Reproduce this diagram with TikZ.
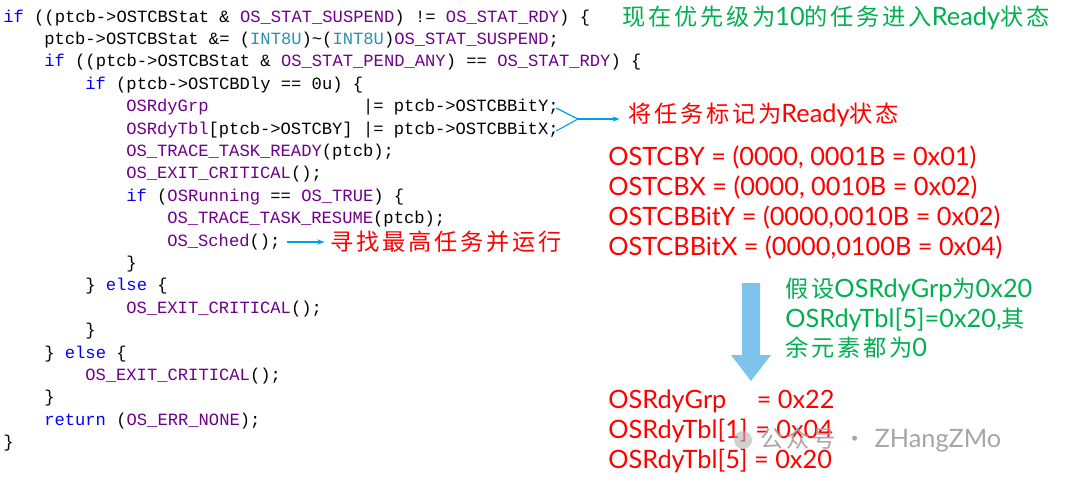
\documentclass[tikz,border=0pt]{standalone}
\usepackage{fontspec}
\usetikzlibrary{arrows.meta,positioning}
\newfontfamily\codefont{Liberation Mono}
\newfontfamily\notefont{Lato}
\newfontfamily\cjk[LetterSpace=12]{Noto Sans CJK SC}
\definecolor{kwblue}{RGB}{0,0,255}
\definecolor{macpurple}{RGB}{111,0,138}
\definecolor{typeteal}{RGB}{43,145,175}
\definecolor{notered}{RGB}{255,0,0}
\definecolor{notegreen}{RGB}{0,176,80}
\definecolor{arrowblue}{RGB}{0,160,230}
\definecolor{bigblue}{RGB}{125,195,236}
\newcommand\kw[1]{\textcolor{kwblue}{#1}}
\newcommand\mac[1]{\textcolor{macpurple}{#1}}
\newcommand\ty[1]{\textcolor{typeteal}{#1}}
\newcommand\lat[1]{{\notefont\fontsize{18}{20}\selectfont #1}}
\begin{document}
\begin{tikzpicture}[x=0.025cm,y=-0.025cm]
	\tikzset{CodeStyle/.style = {
			anchor=west, inner sep=0pt,
			font=\codefont\fontsize{12.2}{14}\selectfont
	}}
	\tikzset{NoteStyle/.style = {
			anchor=west, inner sep=0pt, text=notered,
			font=\notefont\fontsize{18}{20}\selectfont
	}}
	\tikzset{CjkStyle/.style = {
			anchor=west, inner sep=0pt,
			font=\cjk\fontsize{16.5}{18}\selectfont
	}}
	\useasboundingbox (0,0) rectangle (1080,481);
	% code lines
	\node[CodeStyle] (c1) at (3,18) {\kw{if} ((ptcb->OSTCBStat \& \mac{OS\_STAT\_SUSPEND}) != \mac{OS\_STAT\_RDY}) \{};
	\node[CodeStyle] (c2) at (44,40) {ptcb->OSTCBStat \&= (\ty{INT8U})\textasciitilde(\ty{INT8U})\mac{OS\_STAT\_SUSPEND};};
	\node[CodeStyle] (c3) at (44,62) {\kw{if} ((ptcb->OSTCBStat \& \mac{OS\_STAT\_PEND\_ANY}) == \mac{OS\_STAT\_RDY}) \{};
	\node[CodeStyle] (c4) at (85,85) {\kw{if} (ptcb->OSTCBDly == 0u) \{};
	\node[CodeStyle] (c5) at (126,107) {\mac{OSRdyGrp}\hphantom{[ptcb->OSTCBY]} |= ptcb->OSTCBBitY;};
	\node[CodeStyle] (c6) at (126,130) {\mac{OSRdyTbl}[ptcb->OSTCBY] |= ptcb->OSTCBBitX;};
	\node[CodeStyle] (c7) at (126,152) {\mac{OS\_TRACE\_TASK\_READY}(ptcb);};
	\node[CodeStyle] (c8) at (126,174) {\mac{OS\_EXIT\_CRITICAL}();};
	\node[CodeStyle] (c9) at (126,197) {\kw{if} (\mac{OSRunning} == \mac{OS\_TRUE}) \{};
	\node[CodeStyle] (c10) at (167,219) {\mac{OS\_TRACE\_TASK\_RESUME}(ptcb);};
	\node[CodeStyle] (c11) at (167,242) {\mac{OS\_Sched}();};
	\node[CodeStyle] (c12) at (126,264) {\}};
	\node[CodeStyle] (c13) at (85,286) {\} \kw{else} \{};
	\node[CodeStyle] (c14) at (126,309) {\mac{OS\_EXIT\_CRITICAL}();};
	\node[CodeStyle] (c15) at (85,331) {\}};
	\node[CodeStyle] (c16) at (44,354) {\} \kw{else} \{};
	\node[CodeStyle] (c17) at (85,376) {\mac{OS\_EXIT\_CRITICAL}();};
	\node[CodeStyle] (c18) at (44,398) {\}};
	\node[CodeStyle] (c19) at (44,421) {\kw{return} (\mac{OS\_ERR\_NONE});};
	\node[CodeStyle] (c20) at (3,443) {\}};
	% notes
	\node[CjkStyle, text=notegreen] (title) at (622,18) {现在优先级为\lat{10}的任务进入\lat{Ready}状态};
	\node[CjkStyle, text=notered] (mark) at (628,115) {将任务标记为\lat{Ready}状态};
	\node[CjkStyle, text=notered] (sched) at (330,242) {寻找最高任务并运行};
	\node[NoteStyle] (v1) at (608,158) {OSTCBY = (0000, 0001B = 0x01)};
	\node[NoteStyle] (v2) at (608,188) {OSTCBX = (0000, 0010B = 0x02)};
	\node[NoteStyle] (v3) at (608,218) {OSTCBBitY = (0000,0010B = 0x02)};
	\node[NoteStyle] (v4) at (608,248) {OSTCBBitX = (0000,0100B = 0x04)};
	\node[CjkStyle, text=notegreen, align=left, anchor=north west] (assume) at (785,278) {假设\lat{OSRdyGrp}为\lat{0x20}\\[3pt]\lat{OSRdyTbl[5]=0x20,}其\\[3pt]余元素都为\lat{0}};
	\node[NoteStyle] (r1) at (608,401) {OSRdyGrp\hspace{1.2em}= 0x22};
	\node[NoteStyle] (r2) at (608,431) {OSRdyTbl[1]\hspace{0.3em}= 0x04};
	\node[NoteStyle] (r3) at (608,461) {OSRdyTbl[5] = 0x20};
	\node[CjkStyle, text=black!35, anchor=west] (wm) at (760,440) {公众号 · \lat{ZHangZMo}};
	\fill[black!30, opacity=0.6] (743,440) circle (9);
	% connectors
	\coordinate (braceTop) at (556,108);
	\coordinate (braceBot) at (556,131);
	\coordinate (braceTip) at (578,119);
	\draw[arrowblue, thick] (braceTop) -- (braceTip) -- (braceBot);
	\draw[arrowblue, thick, -{Stealth[length=5pt]}] (braceTip) -- ([xshift=-6]mark.west |- braceTip);
	\draw[arrowblue, thick, -{Stealth[length=5pt]}] (c11.east) ++(6,0) -- ([xshift=-4]sched.west);
	\fill[bigblue] (742,283) -- (760,283) -- (760,355) -- (771,355) -- (751,381) -- (731,355) -- (742,355) -- cycle;
\end{tikzpicture}
\end{document}
